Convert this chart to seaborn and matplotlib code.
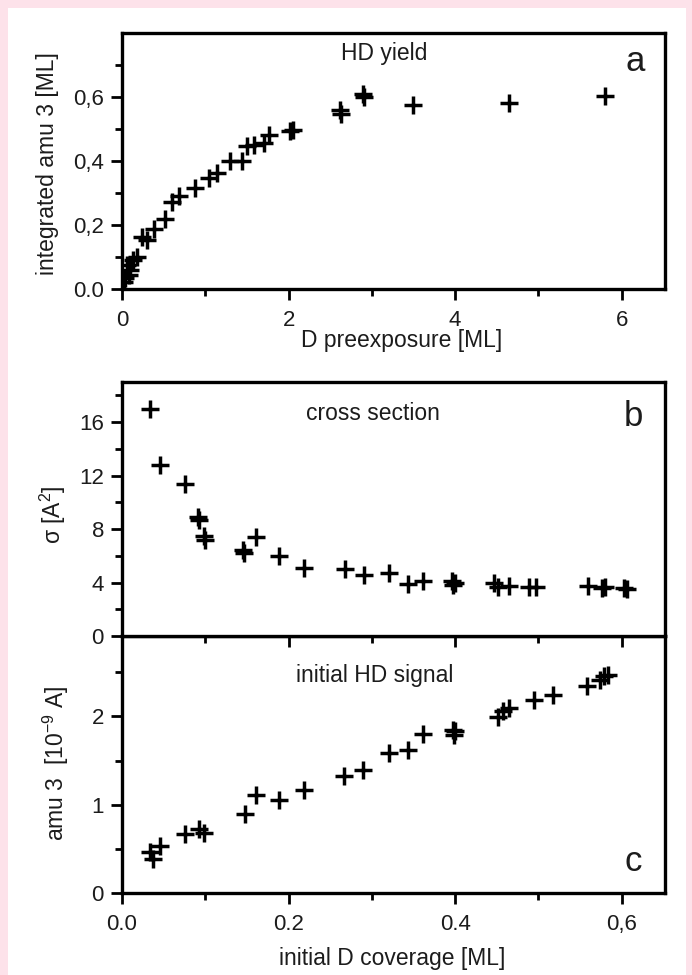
import matplotlib
matplotlib.use("Agg")
import matplotlib.pyplot as plt
import seaborn as sns
import pandas as pd
from matplotlib.ticker import FixedLocator, FixedFormatter
from matplotlib.patches import Rectangle

# ---- data ----
pre_x = [0.02, 0.04, 0.06, 0.08, 0.10, 0.13, 0.18, 0.24, 0.30, 0.38, 0.52, 0.60, 0.68,
         0.88, 1.04, 1.14, 1.30, 1.44, 1.50, 1.58, 1.70, 1.76, 2.02, 2.05, 2.62, 2.63,
         2.89, 2.91, 3.49, 4.65, 5.80]
pre_y = [0.023, 0.034, 0.075, 0.044, 0.060, 0.090, 0.101, 0.163, 0.152, 0.188, 0.219,
         0.271, 0.291, 0.317, 0.348, 0.363, 0.399, 0.399, 0.446, 0.451, 0.456, 0.482,
         0.494, 0.497, 0.559, 0.548, 0.609, 0.600, 0.574, 0.581, 0.604]

cs_x = [0.034, 0.046, 0.076, 0.091, 0.093, 0.099, 0.100, 0.145, 0.147, 0.161, 0.188,
        0.219, 0.268, 0.290, 0.320, 0.343, 0.362, 0.396, 0.398, 0.400, 0.447, 0.452,
        0.465, 0.489, 0.497, 0.560, 0.576, 0.580, 0.603, 0.606]
cs_y = [17.0, 12.8, 11.4, 8.9, 8.7, 7.5, 7.2, 6.4, 6.2, 7.4, 6.0,
        5.1, 5.0, 4.6, 4.7, 3.9, 4.1, 4.1, 3.8, 4.0, 3.95, 3.7,
        3.75, 3.7, 3.7, 3.75, 3.6, 3.7, 3.6, 3.55]

sig_x = [0.034, 0.037, 0.046, 0.076, 0.092, 0.098, 0.148, 0.161, 0.188, 0.219, 0.267,
         0.289, 0.320, 0.343, 0.362, 0.397, 0.399, 0.400, 0.452, 0.458, 0.465, 0.495,
         0.518, 0.558, 0.574, 0.579, 0.584]
sig_y = [0.46, 0.38, 0.53, 0.67, 0.72, 0.68, 0.89, 1.11, 1.05, 1.17, 1.32,
         1.39, 1.59, 1.62, 1.80, 1.85, 1.79, 1.83, 1.99, 2.06, 2.09, 2.19,
         2.24, 2.34, 2.41, 2.46, 2.47]

xa_ticks = [0, 2, 4, 6]
xa_labels = ["0", "2", "4", "6"]
ya_ticks = [0.0, 0.2, 0.4, 0.6]
ya_labels = ["0.0", "0,2", "0,4", "0,6"]
yb_ticks = [0, 4, 8, 12, 16]
yb_labels = ["0", "4", "8", "12", "16"]
yc_ticks = [0, 1, 2]
yc_labels = ["0", "1", "2"]
xc_ticks = [0.0, 0.2, 0.4, 0.6]
xc_labels = ["0.0", "0.2", "0.4", "0,6"]

df_a = pd.DataFrame({"x": pre_x, "y": pre_y})
df_b = pd.DataFrame({"x": cs_x, "y": cs_y})
df_c = pd.DataFrame({"x": sig_x, "y": sig_y})

# ---- style ----
sns.set_theme(style="ticks")
plt.rcParams["font.family"] = ["Liberation Sans", "DejaVu Sans"]
plt.rcParams["mathtext.fontset"] = "custom"
plt.rcParams["mathtext.rm"] = "Liberation Sans"
plt.rcParams["mathtext.it"] = "Liberation Sans:italic"

W, H = 692, 975
PINK = "#fde2ea"
TXT = "#1c1c1c"
fig = plt.figure(figsize=(W / 100, H / 100), dpi=100, facecolor=PINK)
fig.patches.append(Rectangle((8 / W, 0), (686 - 8) / W, (H - 8) / H,
                             transform=fig.transFigure, facecolor="white",
                             edgecolor="none", zorder=-10))


def rect(l, t, r, b):
    return [l / W, 1 - b / H, (r - l) / W, (b - t) / H]


ax_a = fig.add_axes(rect(122, 33, 665, 289))
ax_c = fig.add_axes(rect(122, 636, 665, 893))
ax_b = fig.add_axes(rect(122, 382, 665, 636))

mk = dict(marker="+", color="black", s=165, linewidth=2.5, legend=False, zorder=3)
sns.scatterplot(data=df_a, x="x", y="y", ax=ax_a, **mk)
sns.scatterplot(data=df_b, x="x", y="y", ax=ax_b, **mk)
sns.scatterplot(data=df_c, x="x", y="y", ax=ax_c, **mk)

TFS = 16
for ax in (ax_a, ax_b, ax_c):
    ax.set_facecolor("white")
    for sp in ax.spines.values():
        sp.set_visible(True)
        sp.set_linewidth(2.4)
        sp.set_color("black")
    ax.tick_params(which="major", direction="out", length=8, width=2.0,
                   labelsize=TFS, pad=5, color="black", labelcolor=TXT)
    ax.tick_params(which="minor", direction="out", length=5, width=2.0, color="black")
    ax.tick_params(top=False, right=False, which="both")

# panel a
ax_a.set_xlim(0, 6.52)
ax_a.set_ylim(0, 0.8)
ax_a.xaxis.set_major_locator(FixedLocator(xa_ticks))
ax_a.xaxis.set_major_formatter(FixedFormatter(xa_labels))
ax_a.xaxis.set_minor_locator(FixedLocator([1, 3, 5]))
ax_a.yaxis.set_major_locator(FixedLocator(ya_ticks))
ax_a.yaxis.set_major_formatter(FixedFormatter(ya_labels))
ax_a.yaxis.set_minor_locator(FixedLocator([0.1, 0.3, 0.5, 0.7]))
ax_a.tick_params(axis="x", pad=7)

# panel b
ax_b.set_xlim(0, 0.652)
ax_b.set_ylim(0, 19)
ax_b.xaxis.set_major_locator(FixedLocator(xc_ticks))
ax_b.xaxis.set_minor_locator(FixedLocator([0.1, 0.3, 0.5]))
ax_b.tick_params(axis="x", labelbottom=False)
ax_b.yaxis.set_major_locator(FixedLocator(yb_ticks))
ax_b.yaxis.set_major_formatter(FixedFormatter(yb_labels))
ax_b.yaxis.set_minor_locator(FixedLocator([2, 6, 10, 14, 18]))

# panel c
ax_c.set_xlim(0, 0.652)
ax_c.set_ylim(0, 2.91)
ax_c.xaxis.set_major_locator(FixedLocator(xc_ticks))
ax_c.xaxis.set_major_formatter(FixedFormatter(xc_labels))
ax_c.xaxis.set_minor_locator(FixedLocator([0.1, 0.3, 0.5]))
ax_c.yaxis.set_major_locator(FixedLocator(yc_ticks))
ax_c.yaxis.set_major_formatter(FixedFormatter(yc_labels))
ax_c.yaxis.set_minor_locator(FixedLocator([0.5, 1.5, 2.5]))
ax_c.tick_params(axis="x", pad=7)

# axis labels
LFS = 16.5
ax_a.set_xlabel("D preexposure [ML]", fontsize=LFS, color=TXT)
ax_a.xaxis.set_label_coords(0.515, -0.2)
ax_a.xaxis.label.set_verticalalignment("center")
ax_a.set_ylabel("integrated amu 3 [ML]", fontsize=LFS, color=TXT)
ax_a.yaxis.set_label_coords(-0.138, 0.49)
ax_a.yaxis.label.set_verticalalignment("center")

ax_b.set_xlabel("")
ax_b.set_ylabel("σ [A$^2$]", fontsize=LFS, color=TXT)
ax_b.yaxis.set_label_coords(-0.127, 0.476)
ax_b.yaxis.label.set_verticalalignment("center")

ax_c.set_xlabel("initial D coverage [ML]", fontsize=LFS, color=TXT)
ax_c.xaxis.set_label_coords(0.498, -0.253)
ax_c.xaxis.label.set_verticalalignment("center")
ax_c.set_ylabel("amu 3  [10$^{-9}$ A]", fontsize=LFS, color=TXT)
ax_c.yaxis.set_label_coords(-0.122, 0.506)
ax_c.yaxis.label.set_verticalalignment("center")

# annotations
AFS = 16.5
for ax, txt, x, y in ((ax_a, "HD yield", 0.4825, 0.92),
                      (ax_b, "cross section", 0.462, 0.877),
                      (ax_c, "initial HD signal", 0.466, 0.848)):
    ax.text(x, y, txt, transform=ax.transAxes, ha="center", va="center",
            fontsize=AFS, color=TXT)
for ax, txt, x, y in ((ax_a, "a", 0.945, 0.887),
                      (ax_b, "b", 0.942, 0.863),
                      (ax_c, "c", 0.941, 0.121)):
    ax.text(x, y, txt, transform=ax.transAxes, ha="center", va="center",
            fontsize=25, color=TXT)

fig.savefig("out.png", dpi=100, facecolor=PINK)
